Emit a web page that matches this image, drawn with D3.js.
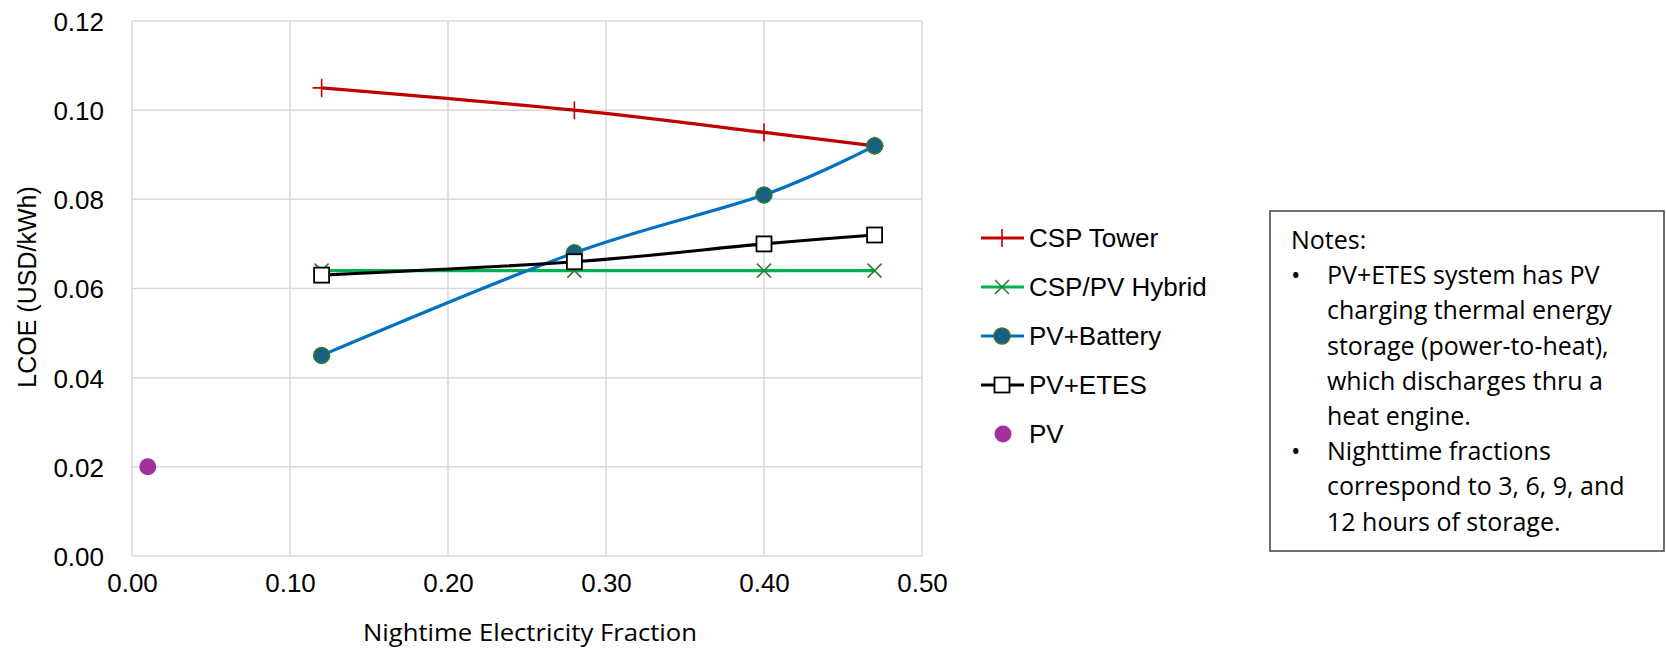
<!DOCTYPE html>
<html>
<head>
<meta charset="utf-8">
<script src="https://cdn.jsdelivr.net/npm/d3@7"></script>
<style>
  body { margin: 0; background: #fff; }
  text { fill: #000; }
</style>
</head>
<body>
<div id="chart"></div>
<script>
// data
var fractions = [0.12, 0.28, 0.40, 0.47];
var cspTower  = [0.105, 0.100, 0.095, 0.092];
var cspPvHybrid = [0.064, 0.064, 0.064, 0.064];
var pvBattery = [0.045, 0.068, 0.081, 0.092];
var pvEtes    = [0.063, 0.066, 0.070, 0.072];
var pvOnly    = [{x: 0.01, y: 0.02}];

var xTicks = [0, 0.1, 0.2, 0.3, 0.4, 0.5];
var yTicks = [0, 0.02, 0.04, 0.06, 0.08, 0.10, 0.12];

var seriesNames = ["CSP Tower", "CSP/PV Hybrid", "PV+Battery", "PV+ETES", "PV"];

var notes = [
    "PV+ETES system has PV",
    "charging thermal energy",
    "storage (power-to-heat),",
    "which discharges thru a",
    "heat engine."
];
var notes2 = [
    "Nighttime fractions",
    "correspond to 3, 6, 9, and",
    "12 hours of storage."
];

var width = 1666, height = 651;
var plot = {left: 132, top: 21, right: 922, bottom: 556};

var svg = d3.select("#chart").append("svg")
    .attr("width", width).attr("height", height);

var x = d3.scaleLinear().domain([0, 0.5]).range([plot.left, plot.right]);
var y = d3.scaleLinear().domain([0, 0.12]).range([plot.bottom, plot.top]);

// grid
svg.append("g").selectAll("line").data(xTicks).enter().append("line")
    .attr("x1", d => x(d)).attr("x2", d => x(d))
    .attr("y1", plot.top).attr("y2", plot.bottom)
    .attr("stroke", "#d9d9d9").attr("stroke-width", 1.5);
svg.append("g").selectAll("line").data(yTicks).enter().append("line")
    .attr("x1", plot.left).attr("x2", plot.right)
    .attr("y1", d => y(d)).attr("y2", d => y(d))
    .attr("stroke", "#d9d9d9").attr("stroke-width", 1.5);

// axes (labels only)
var xAxis = svg.append("g")
    .attr("transform", "translate(0," + plot.bottom + ")")
    .call(d3.axisBottom(x).tickValues(xTicks).tickFormat(d3.format(".2f")).tickSize(0).tickPadding(18));
var yAxis = svg.append("g")
    .attr("transform", "translate(" + plot.left + ",0)")
    .call(d3.axisLeft(y).tickValues(yTicks).tickFormat(d3.format(".2f")).tickSize(0).tickPadding(28));
[xAxis, yAxis].forEach(function(a){
    a.select(".domain").remove();
    a.selectAll("text")
        .attr("font-family", "Liberation Sans, Arial, sans-serif")
        .attr("font-size", 26).attr("fill", "#000");
});
yAxis.selectAll("text").attr("dy", "0.36em");

// axis titles
svg.append("text")
    .attr("x", 530).attr("y", 641)
    .attr("text-anchor", "middle")
    .attr("font-family", "Open Sans, sans-serif")
    .attr("font-size", 24)
    .attr("textLength", 334).attr("lengthAdjust", "spacingAndGlyphs")
    .text("Nightime Electricity Fraction");

svg.append("text")
    .attr("transform", "translate(36,287) rotate(-90)")
    .attr("text-anchor", "middle")
    .attr("font-family", "Liberation Sans, Arial, sans-serif")
    .attr("font-size", 25)
    .text("LCOE (USD/kWh)");

var line = d3.line()
    .x(d => x(d.x)).y(d => y(d.y))
    .curve(d3.curveCardinal.tension(0));

function pts(vals){ return fractions.map((f, i) => ({x: f, y: vals[i]})); }

var styles = [
    {name: seriesNames[0], vals: cspTower, color: "#c00000", marker: "plus"},
    {name: seriesNames[1], vals: cspPvHybrid, color: "#00b050", marker: "cross"},
    {name: seriesNames[2], vals: pvBattery, color: "#0070c0", marker: "circle"},
    {name: seriesNames[3], vals: pvEtes, color: "#000000", marker: "square"}
];

function drawMarker(g, type, cx, cy){
    if (type === "plus") {
        g.append("path")
            .attr("d", "M" + (cx - 9) + "," + cy + "H" + (cx + 9) + "M" + cx + "," + (cy - 9) + "V" + (cy + 9))
            .attr("stroke", "#c00000").attr("stroke-width", 1.6).attr("fill", "none");
    } else if (type === "cross") {
        g.append("path")
            .attr("d", "M" + (cx - 7) + "," + (cy - 7) + "L" + (cx + 7) + "," + (cy + 7) +
                       "M" + (cx - 7) + "," + (cy + 7) + "L" + (cx + 7) + "," + (cy - 7))
            .attr("stroke", "#2e7d32").attr("stroke-width", 1.6).attr("fill", "none");
    } else if (type === "circle") {
        g.append("circle").attr("cx", cx).attr("cy", cy).attr("r", 8)
            .attr("fill", "#1b5e82").attr("stroke", "#2e7d32").attr("stroke-width", 1.5);
    } else if (type === "square") {
        g.append("rect").attr("x", cx - 7.5).attr("y", cy - 7.5).attr("width", 15).attr("height", 15)
            .attr("fill", "#fff").attr("stroke", "#000").attr("stroke-width", 1.8);
    } else if (type === "dot") {
        g.append("circle").attr("cx", cx).attr("cy", cy).attr("r", 8.5)
            .attr("fill", "#a3319b");
    }
}

styles.forEach(function(s){
    var g = svg.append("g");
    g.append("path").datum(pts(s.vals))
        .attr("d", line)
        .attr("fill", "none")
        .attr("stroke", s.color)
        .attr("stroke-width", 3.2);
    pts(s.vals).forEach(p => drawMarker(g, s.marker, x(p.x), y(p.y)));
});

var pvG = svg.append("g");
pvOnly.forEach(p => drawMarker(pvG, "dot", x(p.x), y(p.y)));

// legend
var legend = svg.append("g");
var legendY = d3.scalePoint().domain(seriesNames).range([238, 434]);
styles.forEach(function(s){
    var ly = legendY(s.name);
    legend.append("line")
        .attr("x1", 981).attr("x2", 1024).attr("y1", ly).attr("y2", ly)
        .attr("stroke", s.color).attr("stroke-width", 3.2);
    drawMarker(legend, s.marker, 1002, ly);
});
drawMarker(legend, "dot", 1003, legendY("PV"));
seriesNames.forEach(function(n){
    legend.append("text")
        .attr("x", 1029).attr("y", legendY(n)).attr("dy", "0.36em")
        .attr("font-family", "Liberation Sans, Arial, sans-serif")
        .attr("font-size", 26)
        .text(n);
});

// notes box
var box = svg.append("g");
box.append("rect")
    .attr("x", 1270).attr("y", 211).attr("width", 394).attr("height", 340)
    .attr("fill", "#fff").attr("stroke", "#404040").attr("stroke-width", 1.5);

var noteFont = {family: "Open Sans, sans-serif", size: 25};
var lineGap = 35.2;
var noteLine = 0;
function noteText(xp, txt){
    box.append("text")
        .attr("x", xp).attr("y", 249 + noteLine * lineGap)
        .attr("font-family", noteFont.family)
        .attr("font-size", noteFont.size)
        .attr("fill", "#222")
        .text(txt);
}
noteText(1291, "Notes:"); noteLine++;
[notes, notes2].forEach(function(block){
    block.forEach(function(t, i){
        if (i === 0) noteText(1291, "\u2022");
        noteText(1327, t);
        noteLine++;
    });
});
</script>
</body>
</html>
